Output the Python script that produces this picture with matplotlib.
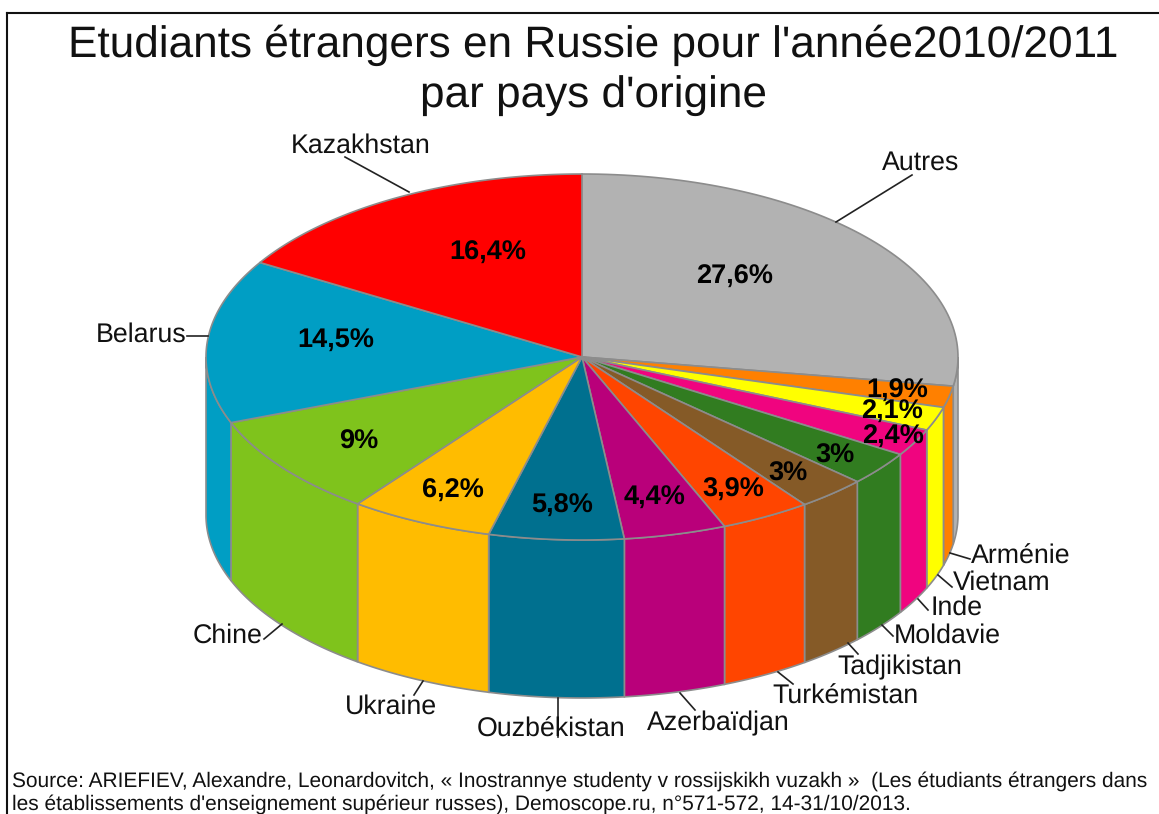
import numpy as np
import matplotlib
matplotlib.use("Agg")
import matplotlib.pyplot as plt
from matplotlib.patches import Polygon

plt.rcParams['font.family'] = ['Liberation Sans', 'DejaVu Sans']
plt.rcParams['text.hinting'] = 'no_hinting'

# clockwise from 12 o'clock
countries = ["Autres", "Arménie", "Vietnam", "Inde", "Moldavie", "Tadjikistan", "Turkémistan",
             "Azerbaïdjan", "Ouzbékistan", "Ukraine", "Chine", "Belarus", "Kazakhstan"]
shares = [27.6, 1.9, 2.1, 2.4, 3, 3, 3.9, 4.4, 5.8, 6.2, 9, 14.5, 16.4]
share_labels = ["27,6%", "1,9%", "2,1%", "2,4%", "3%", "3%", "3,9%", "4,4%", "5,8%", "6,2%", "9%", "14,5%", "16,4%"]
colors = ["#b2b2b2", "#ff8000", "#ffff00", "#f0047f", "#317c20", "#855a27", "#ff4500",
          "#b9007a", "#00708f", "#ffbc00", "#7fc31c", "#009ec4", "#ff0000"]

title = "Etudiants étrangers en Russie pour l'année2010/2011\npar pays d'origine"
source = ["Source: ARIEFIEV, Alexandre, Leonardovitch, « Inostrannye studenty v rossijskikh vuzakh »  (Les étudiants étrangers dans",
          "les établissements d'enseignement supérieur russes), Demoscope.ru, n°571-572, 14-31/10/2013."]

# layout, in pixels of the picture
cx, cy = 582, 357
rx, ry = 376, 183
depth = 158
edge = "#8c8c8c"

share_pos = [(735, 277), (897, 391), (892, 412), (893, 437), (835, 456), (788, 474), (733, 490),
             (655, 497), (562, 506), (453, 491), (359, 442), (336, 340), (488, 253)]
name_pos = [(921, 163), (1021, 557), (1002, 583), (957, 608), (947, 636), (900, 667), (845, 697),
            (718, 723), (551, 730), (391, 707), (228, 636), (141, 335), (361, 146)]
leaders = [((836, 222), (912, 175)), ((950, 553), (970, 559)), ((938, 575), (952, 587)),
           ((918, 599), (928, 610)), ((882, 625), (893, 636)), ((848, 643), (858, 654)),
           ((778, 672), (793, 684)), ((680, 693), (695, 710)), ((558, 698), (558, 737)),
           ((423, 681), (414, 695)), ((282, 624), (264, 639)), ((187, 336), (208, 336)),
           ((409, 192), (345, 157))]


def rim(t, dy=0):
    t = np.radians(t)
    return np.column_stack([cx + rx * np.sin(t), cy - ry * np.cos(t) + dy])


fig = plt.figure(figsize=(11.59, 8.14), dpi=100)
ax = fig.add_axes([0, 0, 1, 1])
ax.set_xlim(0, 1159)
ax.set_ylim(814, 0)
ax.axis("off")

ends = np.cumsum(shares) / np.sum(shares) * 360
starts = np.concatenate([[0], ends[:-1]])

# side wall, only the part facing the viewer
for a, b, c in zip(starts, ends, colors):
    a2, b2 = max(a, 90), min(b, 270)
    if b2 <= a2:
        continue
    t = np.linspace(a2, b2, 60)
    pts = np.vstack([rim(t), rim(t[::-1], depth)])
    ax.add_patch(Polygon(pts, closed=True, fc=c, ec=edge, lw=1.2, zorder=2))

# top face
for a, b, c in zip(starts, ends, colors):
    t = np.linspace(a, b, 80)
    pts = np.vstack([[cx, cy], rim(t)])
    ax.add_patch(Polygon(pts, closed=True, fc=c, ec=edge, lw=1.2, zorder=3))

for lab, (x, y) in zip(share_labels, share_pos):
    ax.text(x, y, lab, fontsize=19.5, fontweight="bold", ha="center", va="center", color="black", zorder=5)

for lab, (x, y), ln in zip(countries, name_pos, leaders):
    ax.text(x, y, lab, fontsize=19.3, ha="center", va="center", color="#111111", zorder=5)
    ax.plot([ln[0][0], ln[1][0]], [ln[0][1], ln[1][1]], color="#222222", lw=1.2, zorder=4)

ax.text(593, 71, title, fontsize=31.75, ha="center", va="center", color="#111111", linespacing=1.3)
ax.text(12, 781, source[0], fontsize=15.05, ha="left", va="center", color="#111111")
ax.text(12, 804, source[1], fontsize=15.05, ha="left", va="center", color="#111111")

# frame
ax.plot([6.5, 6.5], [814, 12.5], color="#111111", lw=1.5)
ax.plot([6.5, 1159], [12.5, 12.5], color="#111111", lw=1.5)

fig.savefig("out.png", dpi=100)
